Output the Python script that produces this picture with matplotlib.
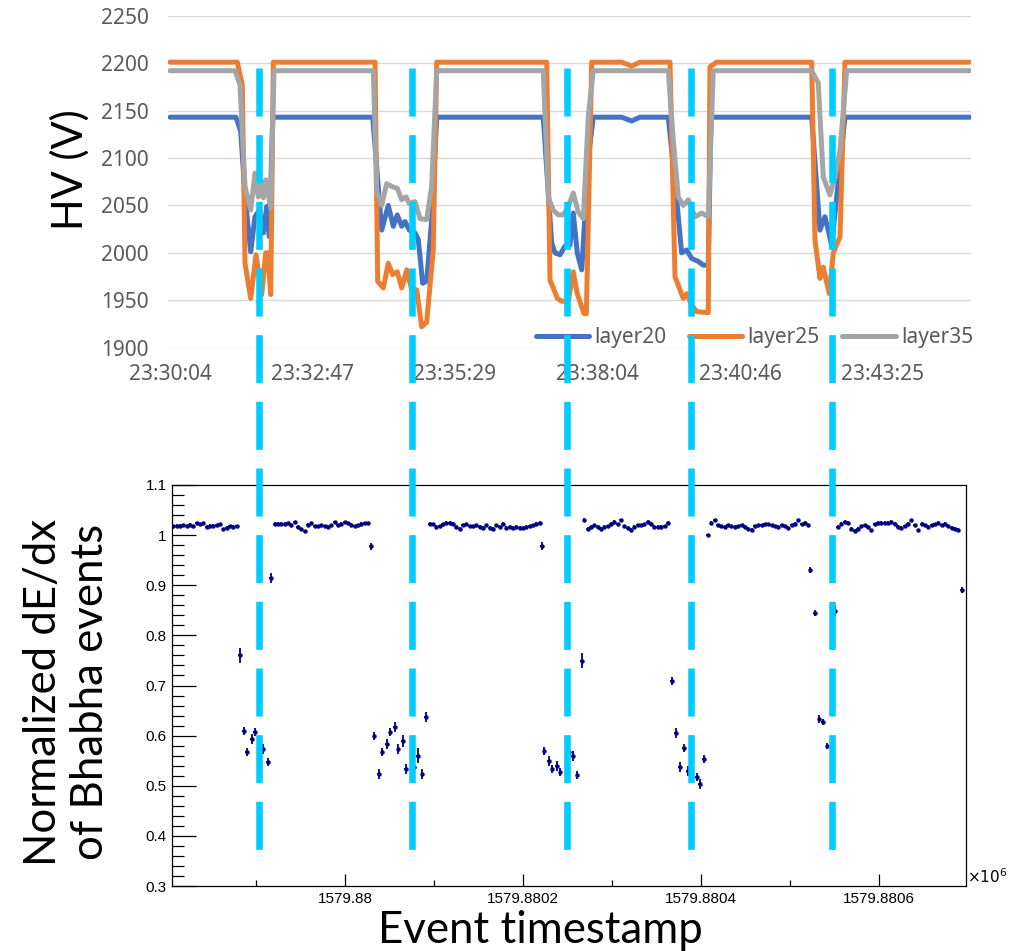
import numpy as np
import matplotlib
matplotlib.use("Agg")
import matplotlib.pyplot as plt
from matplotlib.lines import Line2D
from matplotlib.ticker import MultipleLocator, FixedLocator
from matplotlib.transforms import blended_transform_factory

plt.rcParams["lines.scale_dashes"] = False

# ---- HV monitor (seconds after 23:30:04) ----
hv_ticks = [0, 160, 320, 480, 640, 800]
hv_tick_labels = ["23:30:04", "23:32:47", "23:35:29", "23:38:04", "23:40:46", "23:43:25"]

l20_t = [0, 74.1, 79.4, 84.2, 90.6, 95.4, 100.3, 104.8, 108.6, 111.5, 115.3,
         227.6, 237.7, 245.1, 250.7, 255.2, 260.2, 263.9, 268.7, 275.1, 278.8, 283.7, 288.2, 293.8, 299.5,
         419.1, 428.6, 432.3, 437.9, 443.5, 449.1, 452.8, 457.3, 462.3, 469.7, 475.3,
         507.2, 518.4, 527.7,
         559.5, 568.9, 574.5, 580.2, 585.8, 593.2, 598.8, 604.4, 607.4,
         720.5, 729.8, 735.4, 739.1, 743.0, 746.7, 757.9, 898.2]
l20_v = [2143, 2143, 2128, 2060, 2001, 2038, 2045, 2021, 2049, 2017, 2143,
         2143, 2024, 2050, 2028, 2040, 2028, 2033, 2024, 2021, 2014, 1968, 1970, 2035, 2143,
         2143, 2010, 2000, 1998, 2007, 2008, 2042, 2000, 1982, 2100, 2143,
         2143, 2139, 2143,
         2143, 2056, 2000, 2003, 1994, 1991, 1987, 1987, 2143,
         2143, 2024, 2038, 2024, 2007, 2042, 2143, 2143]

l25_t = [0, 75.6, 81.2, 84.2, 90.6, 96.6, 103.0, 107.5, 109.7, 113.1, 116.0,
         230.2, 233.2, 239.5, 245.1, 250.0, 255.2, 260.2, 265.8, 271.4, 277.0, 282.6, 288.2, 295.6, 299.5,
         423.0, 426.7, 430.4, 434.9, 439.8, 447.2, 452.8, 457.3, 464.8, 467.5, 473.5,
         507.2, 518.4, 527.7,
         561.4, 567.0, 572.6, 576.3, 580.2, 585.8, 591.4, 604.4, 606.3, 613.8,
         720.5, 724.2, 729.8, 733.5, 740.3, 744.8, 752.3, 757.9, 898.2]
l25_v = [2201, 2201, 2177, 1989, 1952, 1998, 1956, 2000, 2000, 1956, 2201,
         2201, 1970, 1963, 1989, 1977, 1980, 1963, 1982, 1961, 1961, 1922, 1927, 2003, 2201,
         2201, 1971, 1963, 1952, 1949, 1949, 1980, 1957, 1936, 1936, 2201,
         2201, 2197, 2201,
         2201, 1975, 1961, 1952, 1957, 1945, 1938, 1937, 2196, 2201,
         2201, 2014, 1973, 1985, 1957, 2000, 2017, 2201, 2201]

l35_t = [0, 73.0, 78.6, 84.2, 90.6, 95.4, 99.1, 102.2, 104.8, 107.5, 113.1, 116.8,
         228.3, 232.1, 237.7, 243.3, 248.9, 255.2, 260.2, 265.0, 268.7, 275.1, 280.7, 288.2, 293.8, 299.5,
         419.1, 424.8, 430.4, 436.0, 441.6, 447.2, 452.8, 458.4, 464.1, 469.7, 475.3,
         559.5, 565.1, 570.7, 576.3, 582.0, 589.5, 597.0, 604.4, 610.0,
         720.5, 727.9, 733.5, 741.0, 746.7, 752.3, 759.8, 898.2]
l35_v = [2192, 2192, 2177, 2070, 2045, 2084, 2059, 2075, 2058, 2077, 2047, 2192,
         2192, 2065, 2050, 2073, 2070, 2068, 2056, 2059, 2052, 2054, 2036, 2035, 2070, 2192,
         2192, 2058, 2045, 2040, 2040, 2049, 2063, 2043, 2036, 2144, 2192,
         2192, 2119, 2059, 2050, 2056, 2038, 2042, 2038, 2192,
         2192, 2179, 2080, 2061, 2080, 2108, 2192, 2192]

# ---- Bhabha dE/dx vs event time ----
BIN = 3.75  # seconds per time bin
band_starts = [1579879807, 1579879921, 1579880095, 1579880269, 1579880408, 1579880554]
band_vals = [
    [1.018, 1.019, 1.019, 1.020, 1.019, 1.021, 1.018, 1.024, 1.022, 1.024,
     1.017, 1.019, 1.019, 1.020, 1.022, 1.012, 1.015, 1.018, 1.017, 1.018],
    [1.023, 1.023, 1.023, 1.023, 1.024, 1.021, 1.026, 1.017, 1.012, 1.008,
     1.021, 1.024, 1.018, 1.018, 1.020, 1.018, 1.017, 1.020, 1.026, 1.020,
     1.023, 1.026, 1.024, 1.021, 1.018, 1.020, 1.023, 1.024, 1.024],
    [1.023, 1.022, 1.017, 1.018, 1.022, 1.025, 1.025, 1.023, 1.017, 1.013,
     1.020, 1.022, 1.018, 1.018, 1.020, 1.017, 1.015, 1.020, 1.015, 1.013,
     1.020, 1.017, 1.023, 1.015, 1.017, 1.015, 1.017, 1.015, 1.015, 1.017,
     1.018, 1.020, 1.023, 1.025],
    [1.031, 1.013, 1.017, 1.020, 1.017, 1.013, 1.017, 1.018, 1.023, 1.027,
     1.022, 1.030, 1.018, 1.015, 1.011, 1.017, 1.020, 1.020, 1.022, 1.027,
     1.023, 1.017, 1.017, 1.017, 1.018, 1.025],
    [1.000, 1.025, 1.030, 1.020, 1.018, 1.017, 1.020, 1.018, 1.017, 1.018,
     1.020, 1.017, 1.013, 1.011, 1.018, 1.020, 1.020, 1.022, 1.022, 1.020,
     1.018, 1.017, 1.020, 1.018, 1.015, 1.020, 1.023, 1.030, 1.022, 1.025,
     1.020],
    [1.017, 1.023, 1.027, 1.025, 1.013, 1.009, 1.013, 1.018, 1.020, 1.017,
     1.010, 1.022, 1.025, 1.025, 1.025, 1.025, 1.027, 1.023, 1.017, 1.015,
     1.018, 1.023, 1.030, 1.020, 1.010, 1.023, 1.020, 1.017, 1.020, 1.022,
     1.025, 1.020, 1.023, 1.018, 1.015, 1.013, 1.011],
]
band_err = 0.003

# events recorded while HV was ramping
dip_t = [1579879882, 1579879886, 1579879890, 1579879895, 1579879899, 1579879908,
         1579879913, 1579879917, 1579880029, 1579880033, 1579880038, 1579880042,
         1579880047, 1579880051, 1579880056, 1579880060, 1579880065, 1579880068,
         1579880077, 1579880082, 1579880087, 1579880091, 1579880221, 1579880224,
         1579880229, 1579880233, 1579880238, 1579880242, 1579880252, 1579880256,
         1579880261, 1579880266, 1579880367, 1579880372, 1579880376, 1579880381,
         1579880385, 1579880395, 1579880399, 1579880403, 1579880523, 1579880528,
         1579880533, 1579880537, 1579880542, 1579880551, 1579880693]
dip_v = [0.760, 0.609, 0.567, 0.593, 0.608, 0.573,
         0.548, 0.915, 0.978, 0.600, 0.523, 0.567,
         0.583, 0.607, 0.618, 0.573, 0.590, 0.533,
         0.537, 0.560, 0.523, 0.638, 0.978, 0.570,
         0.550, 0.533, 0.540, 0.527, 0.567, 0.560,
         0.522, 0.749, 0.709, 0.605, 0.538, 0.575,
         0.530, 0.517, 0.503, 0.553, 0.930, 0.845,
         0.633, 0.627, 0.580, 0.848, 0.891]
dip_err = [0.015, 0.008, 0.008, 0.010, 0.008, 0.010,
           0.008, 0.010, 0.007, 0.008, 0.010, 0.008,
           0.010, 0.008, 0.010, 0.010, 0.012, 0.010,
           0.010, 0.015, 0.010, 0.010, 0.008, 0.008,
           0.010, 0.008, 0.010, 0.008, 0.010, 0.010,
           0.008, 0.015, 0.008, 0.010, 0.010, 0.008,
           0.010, 0.008, 0.010, 0.008, 0.006, 0.006,
           0.008, 0.006, 0.006, 0.010, 0.006]

# HV trip times marked across both panels
trip_t = [1579879903, 1579880075, 1579880249, 1579880389, 1579880547]

W, H = 1013, 951
fig = plt.figure(figsize=(W / 100, H / 100), dpi=100)

# ---------------- top: HV per layer ----------------
ax1 = fig.add_axes([168 / W, 1 - 347.7 / H, 803 / W, 332 / H])
series = [("layer20", l20_t, l20_v, "#4472C4"),
          ("layer25", l25_t, l25_v, "#ED7D31"),
          ("layer35", l35_t, l35_v, "#A5A5A5")]
for name, t, v, c in series:
    ax1.plot(t, v, color=c, lw=3.6, label=name,
             solid_capstyle="round", solid_joinstyle="round")
ax1.set_xlim(-2.25, 899.4)
ax1.set_ylim(1900, 2250)
ax1.set_yticks(np.arange(1900, 2251, 50))
ax1.set_xticks(hv_ticks)
ax1.set_xticklabels(hv_tick_labels)
ax1.yaxis.grid(True, color="#D9D9D9", lw=1.0)
ax1.set_axisbelow(True)
for s in ax1.spines.values():
    s.set_visible(False)
ax1.tick_params(length=0, labelsize=15, labelcolor="#595959")
ax1.tick_params(axis="y", pad=14)
ax1.tick_params(axis="x", pad=12)
for lab in ax1.get_xticklabels() + ax1.get_yticklabels():
    lab.set_family("Noto Sans")
leg = ax1.legend(loc="center right", bbox_to_anchor=(973 / W, 1 - 338 / H),
                 bbox_transform=fig.transFigure, ncol=3, frameon=False,
                 handlelength=2.55, handletextpad=0.25,
                 columnspacing=1.1, borderpad=0, borderaxespad=0,
                 prop={"family": "Noto Sans", "size": 15})
for txt in leg.get_texts():
    txt.set_color("#595959")
fig.text(70 / W, 1 - 170 / H, "HV (V)", rotation=90, ha="center", va="center",
         fontsize=30, family="Lato")

# ---------------- bottom: normalized dE/dx ----------------
ax2 = fig.add_axes([171.7 / W, 1 - 886 / H, 794 / W, 401 / H])
bt = np.concatenate([s + BIN * np.arange(len(v)) for s, v in zip(band_starts, band_vals)])
bv = np.concatenate(band_vals)
ax2.errorbar(bt, bv, xerr=BIN / 2, yerr=band_err, fmt="o", ms=2.2,
             color="#000080", elinewidth=1.1, capsize=0)
ax2.errorbar(dip_t, dip_v, xerr=BIN / 2, yerr=dip_err, fmt="o", ms=2.2,
             color="#000080", elinewidth=1.3, capsize=0)
ax2.set_xlim(1579879805.3, 1579880697.4)
ax2.set_ylim(0.3, 1.1)
ax2.yaxis.set_major_locator(FixedLocator([0.3, 0.4, 0.5, 0.6, 0.7, 0.8, 0.9, 1.0, 1.1]))
ax2.set_yticklabels(["0.3", "0.4", "0.5", "0.6", "0.7", "0.8", "0.9", "1", "1.1"])
ax2.yaxis.set_minor_locator(MultipleLocator(0.02))
ax2.xaxis.set_major_locator(FixedLocator([1579880000, 1579880200, 1579880400, 1579880600]))
ax2.set_xticklabels(["1579.88", "1579.8802", "1579.8804", "1579.8806"])
ax2.xaxis.set_minor_locator(MultipleLocator(100))
ax2.tick_params(direction="in", top=False, right=False, which="both",
                width=0.9, color="black", labelsize=11)
ax2.tick_params(axis="y", which="major", length=17.3, pad=3.6)
ax2.tick_params(axis="y", which="minor", length=8.6)
ax2.tick_params(axis="x", which="major", length=8.6, pad=4)
ax2.tick_params(axis="x", which="minor", length=4.0)
for lab in ax2.get_xticklabels() + ax2.get_yticklabels():
    lab.set_family("Liberation Sans")
for s in ax2.spines.values():
    s.set_linewidth(0.9)
    s.set_color("black")
ax2.text(1.002, 0.0, r"$\times10^{6}$", transform=ax2.transAxes,
         ha="left", va="bottom", fontsize=11, family="Liberation Sans")

fig.text(67 / W, 1 - 692 / H, "Normalized dE/dx\nof Bhabha events", rotation=90,
         ha="center", va="center", multialignment="center", fontsize=31.5,
         family="Lato", linespacing=1.2)
fig.text(540 / W, 1 - 943 / H, "Event timestamp", ha="center", va="baseline",
         fontsize=31.5, family="Lato")

# ---------------- dashed trip markers across both panels ----------------
trans = blended_transform_factory(ax2.transData, fig.transFigure)
for t in trip_t:
    fig.add_artist(Line2D([t, t], [1 - 68 / H, 1 - 852 / H], transform=trans,
                          color="#00CCFF", lw=4.7, dashes=(34.6, 13.4),
                          solid_capstyle="butt", dash_capstyle="butt"))

fig.savefig("out.png", dpi=100)
